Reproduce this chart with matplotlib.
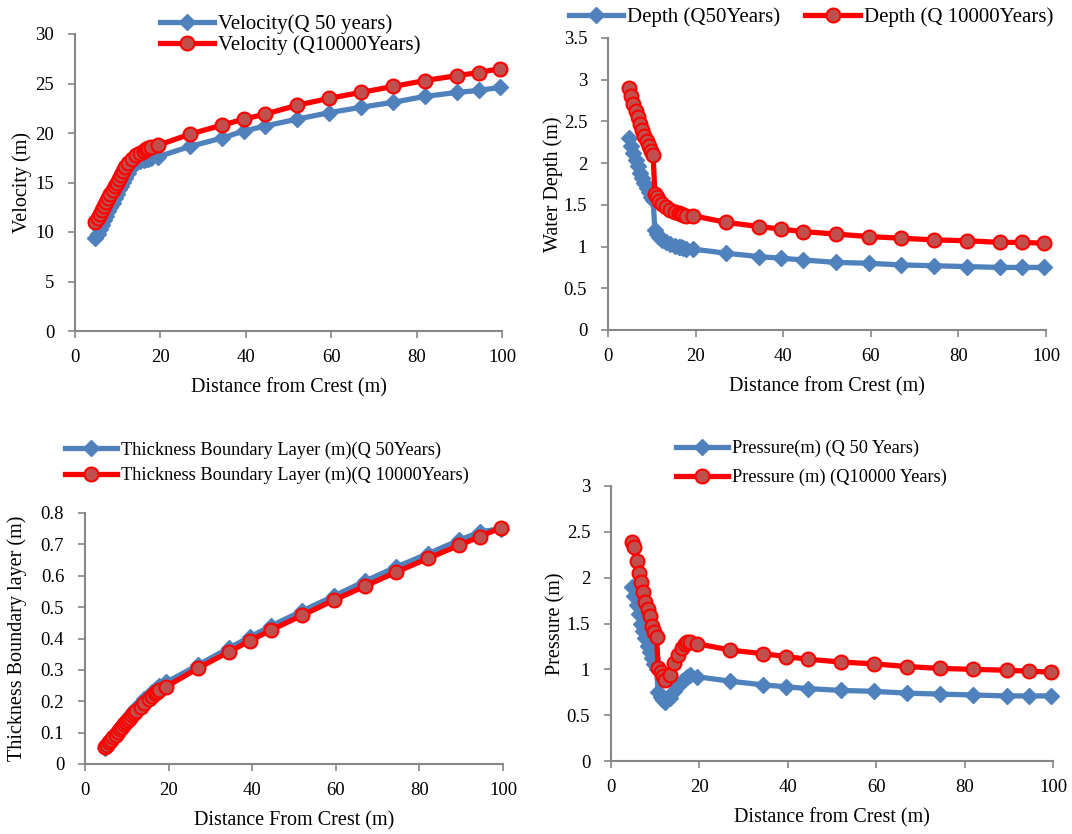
import matplotlib.pyplot as plt

plt.rcParams['font.family'] = ['Liberation Serif', 'DejaVu Serif']

# distance from crest (m), shared by all series
x = [4.8, 5.3, 5.8, 6.3, 6.8, 7.3, 7.8, 8.3, 8.8, 9.3, 9.8, 10.3,
     10.7, 11.2, 11.7, 12.3, 13.3, 14.2, 15.2, 16.1, 16.7, 17.2, 17.8, 19.4,
     27, 34.5, 39.5, 44.5, 52, 59.5, 67, 74.5, 82, 89.5, 94.5, 99.5]

vel_q50 = [9.4, 9.8, 10.3, 10.7, 11.2, 11.6, 12.1, 12.5, 12.9, 13.4, 13.8, 14.3,
           14.6, 15.1, 15.5, 16.0, 16.7, 17.0, 17.15, 17.3, 17.35, 17.4, 17.5, 17.6,
           18.65, 19.5, 20.2, 20.7, 21.4, 22.05, 22.6, 23.1, 23.7, 24.1, 24.3, 24.6]
vel_q10000 = [11.0, 11.4, 11.8, 12.2, 12.6, 13.0, 13.4, 13.8, 14.2, 14.6, 15.0, 15.4,
              15.8, 16.2, 16.6, 17.0, 17.4, 17.8, 18.0, 18.2, 18.35, 18.45, 18.55, 18.75,
              19.9, 20.8, 21.4, 21.9, 22.8, 23.5, 24.1, 24.7, 25.3, 25.8, 26.1, 26.5]

depth_q50 = [2.30, 2.21, 2.12, 2.04, 1.96, 1.88, 1.82, 1.76, 1.70, 1.65, 1.60, 1.56,
             1.20, 1.15, 1.11, 1.08, 1.05, 1.03, 1.01, 1.00, 0.99, 0.98, 0.97, 0.97,
             0.92, 0.88, 0.86, 0.84, 0.81, 0.80, 0.78, 0.77, 0.76, 0.75, 0.75, 0.75]
depth_q10000 = [2.90, 2.80, 2.71, 2.63, 2.55, 2.47, 2.40, 2.33, 2.27, 2.21, 2.15, 2.10,
                1.63, 1.59, 1.55, 1.51, 1.47, 1.44, 1.42, 1.40, 1.39, 1.38, 1.37, 1.37,
                1.29, 1.24, 1.21, 1.18, 1.15, 1.12, 1.10, 1.08, 1.07, 1.05, 1.05, 1.04]

thick_q50 = [0.050, 0.060, 0.070, 0.080, 0.089, 0.098, 0.107, 0.116, 0.124, 0.132, 0.140, 0.148,
             0.155, 0.163, 0.171, 0.180, 0.194, 0.206, 0.218, 0.229, 0.236, 0.242, 0.248, 0.260,
             0.315, 0.370, 0.405, 0.440, 0.488, 0.535, 0.583, 0.628, 0.670, 0.713, 0.740, 0.750]
thick_q10000 = [0.055, 0.062, 0.070, 0.078, 0.086, 0.094, 0.102, 0.110, 0.118, 0.126, 0.133, 0.141,
                0.147, 0.155, 0.162, 0.170, 0.183, 0.195, 0.207, 0.218, 0.225, 0.231, 0.237, 0.246,
                0.305, 0.358, 0.393, 0.427, 0.474, 0.522, 0.567, 0.612, 0.655, 0.697, 0.725, 0.753]

press_q50 = [1.90, 1.80, 1.70, 1.60, 1.50, 1.42, 1.34, 1.26, 1.19, 1.12, 1.06, 1.00,
             0.75, 0.70, 0.67, 0.64, 0.69, 0.76, 0.82, 0.87, 0.90, 0.92, 0.94, 0.92,
             0.87, 0.83, 0.81, 0.79, 0.77, 0.76, 0.74, 0.73, 0.72, 0.71, 0.71, 0.71]
press_q10000 = [2.39, 2.33, 2.18, 2.05, 1.95, 1.84, 1.73, 1.66, 1.58, 1.47, 1.41, 1.35,
                1.01, 0.97, 0.93, 0.88, 0.94, 1.07, 1.16, 1.23, 1.28, 1.30, 1.30, 1.28,
                1.21, 1.17, 1.14, 1.11, 1.08, 1.06, 1.03, 1.01, 1.00, 0.99, 0.98, 0.97]

BLUE = "#4F81BD"
RED = "#FF0000"
RED_FACE = "#C0504D"
GRAY = "#868686"
FS = 14.5
TFS = 13.5

W, H = 1072, 834
fig = plt.figure(figsize=(W / 100, H / 100), dpi=100)


def px_axes(left, right, top, bottom):
    ax = fig.add_axes([left / W, 1 - bottom / H, (right - left) / W, (bottom - top) / H])
    ax.box_px = (left, right)
    return ax


def style(ax, ylim, yticks, ylabels, xlabel, ylabel, ylabel_x):
    ax.set_xlim(0, 100)
    ax.set_ylim(*ylim)
    ax.set_xticks([0, 20, 40, 60, 80, 100])
    ax.set_yticks(yticks, ylabels)
    for s in ["top", "right"]:
        ax.spines[s].set_visible(False)
    for s in ["left", "bottom"]:
        ax.spines[s].set_color(GRAY)
        ax.spines[s].set_linewidth(1.5)
    ax.tick_params(colors=GRAY, labelcolor="black", labelsize=TFS, width=1.2, length=5, direction="out")
    ax.tick_params(axis="x", pad=8)
    ax.tick_params(axis="y", pad=10)
    ax.set_xlabel(xlabel, fontsize=FS, labelpad=9)
    ax.set_ylabel(ylabel, fontsize=FS)
    # place the y label by its centre in figure pixels
    left, right = ax.box_px
    ax.yaxis.set_label_coords((ylabel_x + 10 - left) / (right - left), 0.5)


def draw(ax, y1, y2, lab1, lab2):
    ax.plot(x, y1, color=BLUE, lw=3.8, marker="D", ms=8, mfc=BLUE, mec=BLUE, label=lab1, clip_on=False)
    ax.plot(x, y2, color=RED, lw=3.8, marker="o", ms=10, mfc=RED_FACE, mec=RED, mew=1.5, label=lab2, clip_on=False)


def legend(ax, xpx, ypx, fs, hl, **kw):
    ax.legend(loc="center left", bbox_to_anchor=(xpx / W, 1 - ypx / H), bbox_transform=fig.transFigure,
              frameon=False, fontsize=fs, handlelength=hl, handletextpad=0.2,
              borderpad=0, borderaxespad=0, **kw)


# top left: velocity
ax1 = px_axes(75, 502, 34, 331)
draw(ax1, vel_q50, vel_q10000, "Velocity(Q 50 years)", "Velocity (Q10000Years)")
style(ax1, (0, 30), [0, 5, 10, 15, 20, 25, 30], ["0", "5", "10", "15", "20", "25", "30"],
      "Distance from Crest (m)", "Velocity (m)", 22)
legend(ax1, 160, 35, 15, 2.6, labelspacing=0.05)

# top right: depth
ax2 = px_axes(608, 1046, 38, 330)
draw(ax2, depth_q50, depth_q10000, "Depth (Q50Years)", "Depth (Q 10000Years)")
style(ax2, (0, 3.5), [0, 0.5, 1, 1.5, 2, 2.5, 3, 3.5], ["0", "0.5", "1", "1.5", "2", "2.5", "3", "3.5"],
      "Distance from Crest (m)", "Water Depth (m)", 553)
legend(ax2, 569, 17, 15, 2.6, ncol=2, columnspacing=1.2)

# bottom left: boundary layer thickness
ax3 = px_axes(85, 503, 513, 764)
draw(ax3, thick_q50, thick_q10000, "Thickness Boundary Layer (m)(Q 50Years)",
     "Thickness Boundary Layer (m)(Q 10000Years)")
style(ax3, (0, 0.8), [0, 0.1, 0.2, 0.3, 0.4, 0.5, 0.6, 0.7, 0.8],
      ["0", "0.1", "0.2", "0.3", "0.4", "0.5", "0.6", "0.7", "0.8"],
      "Distance From Crest (m)", "Thickness Boundary layer (m)", 17)
legend(ax3, 65, 463, 13.2, 2.85, labelspacing=0.45)

# bottom right: pressure
ax4 = px_axes(611, 1053, 486, 761)
draw(ax4, press_q50, press_q10000, "Pressure(m) (Q 50 Years)", "Pressure (m) (Q10000 Years)")
style(ax4, (0, 3), [0, 0.5, 1, 1.5, 2, 2.5, 3], ["0", "0.5", "1", "1.5", "2", "2.5", "3"],
      "Distance from Crest (m)", "Pressure (m)", 555)
legend(ax4, 676, 463, 13.2, 2.85, labelspacing=0.65)

plt.savefig("out.png", dpi=100)
